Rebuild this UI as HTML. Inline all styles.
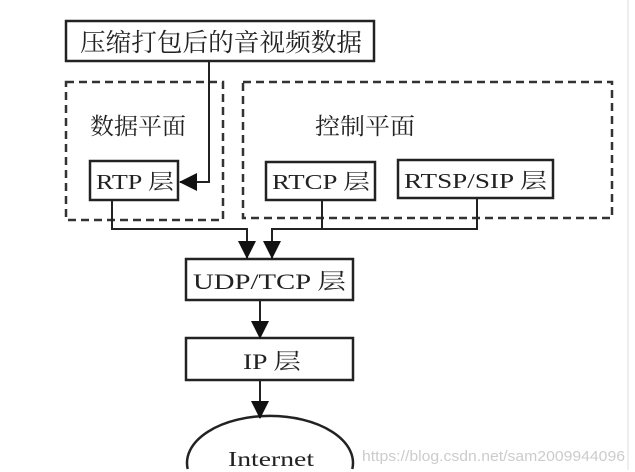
<!DOCTYPE html>
<html><head><meta charset="utf-8"><style>
html,body{margin:0;padding:0;background:#fff;width:635px;height:472px;overflow:hidden;}
svg{display:block;}
text{font-family:"Liberation Serif","Noto Serif CJK SC",serif;fill:#222;}
</style></head><body>
<svg width="635" height="472" viewBox="0 0 635 472">
<defs>
<marker id="b" markerWidth="18" markerHeight="18" refX="17" refY="9" orient="auto" markerUnits="userSpaceOnUse"><path d="M0,0 L18,9 L0,18 Z" fill="#111"/></marker></defs>
<line x1="628" y1="0" x2="628" y2="470" stroke="#ddd"/>
<g stroke="#222" stroke-width="2.5" fill="none">
<rect x="66" y="21" width="308" height="40"/>
<rect x="90" y="161" width="88" height="39"/>
<rect x="266" y="162" width="109" height="38"/>
<rect x="398" y="160" width="155" height="38"/>
<rect x="186" y="259" width="167" height="41"/>
<rect x="186" y="338" width="167" height="42"/>
<path d="M187.7,469 A83,47 0 1 1 352.3,469"/>
</g>
<g stroke="#333" stroke-width="2.5" fill="none" stroke-dasharray="8,5">
<rect x="66" y="82" width="157" height="138"/>
<rect x="243" y="82" width="369" height="136"/>
</g>
<g stroke="#222" stroke-width="2" fill="none">
<polyline points="209,61 209,182 180,182" marker-end="url(#b)"/>
<polyline points="112,200 112,229 247,229 247,258" marker-end="url(#b)"/>
<polyline points="477,198 477,229 272,229 272,258" marker-end="url(#b)"/>
<line x1="322" y1="200" x2="322" y2="229"/>
<line x1="260" y1="300" x2="260" y2="338" marker-end="url(#b)"/>
<line x1="260" y1="380" x2="260" y2="418" marker-end="url(#b)"/>
</g>
<text x="80" y="51" font-size="25" textLength="282" lengthAdjust="spacingAndGlyphs">压缩打包后的音视频数据</text>
<text x="90" y="134" font-size="23" textLength="96" lengthAdjust="spacingAndGlyphs" fill="#444">数据平面</text>
<text x="315" y="134" font-size="23" textLength="100" lengthAdjust="spacingAndGlyphs" fill="#444">控制平面</text>
<text x="96" y="189" font-size="21" textLength="78" lengthAdjust="spacingAndGlyphs">RTP 层</text>
<text x="272" y="189" font-size="21" textLength="98" lengthAdjust="spacingAndGlyphs">RTCP 层</text>
<text x="404" y="188" font-size="21" textLength="143" lengthAdjust="spacingAndGlyphs">RTSP/SIP 层</text>
<text x="193" y="289" font-size="22" textLength="153" lengthAdjust="spacingAndGlyphs">UDP/TCP 层</text>
<text x="243" y="369" font-size="22" textLength="58" lengthAdjust="spacingAndGlyphs">IP 层</text>
<text x="228" y="466" font-size="21" textLength="86" lengthAdjust="spacingAndGlyphs">Internet</text>
<text x="362" y="461" font-size="15" style="font-family:'Liberation Sans',sans-serif;fill:#ccc" textLength="263" lengthAdjust="spacingAndGlyphs">https://blog.csdn.net/sam2009944096</text>
</svg>
</body></html>
